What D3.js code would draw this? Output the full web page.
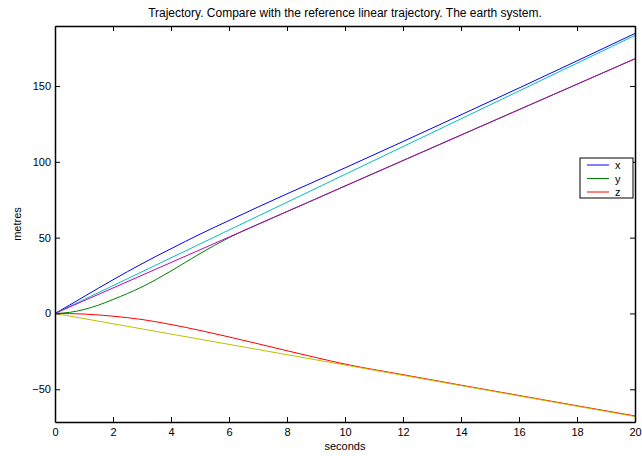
<!DOCTYPE html>
<html>
<head>
<meta charset="utf-8">
<script src="https://cdn.jsdelivr.net/npm/d3@7"></script>
<style>
  body { margin: 0; background: #fff; }
  text { font-family: "Liberation Sans", Arial, sans-serif; fill: #000; }
</style>
</head>
<body>
<script>
// time samples (seconds) for the simulated trajectory
var tSim = [0, 0.5, 1, 1.5, 2, 3, 4, 5, 6, 7, 8, 9, 10, 12, 14, 16, 18, 20];
var xSim = [0, 5.5, 11.1, 16.7, 22.2, 32.8, 42.7, 52.3, 61.3, 70.2, 78.9, 87.4, 96, 113.4, 131, 148.7, 166.6, 184.7];
var ySim = [0, 0.7, 2.6, 5.5, 9.2, 17.5, 28, 39.5, 50, 58.8, 67.2, 75.6, 84.1, 100.9, 117.7, 134.5, 151.2, 168];
var zSim = [0, -0.1, -0.4, -1, -1.8, -4, -7.3, -11.2, -15.5, -20, -24.6, -29.1, -33.4, -40.4, -47.3, -54.1, -60.9, -67.6];

// reference linear trajectory
var tRef = [0, 20];
var xRef = [0, 183.4];
var yRef = [0, 168];
var zRef = [0, -68];

var xTicks = [0, 2, 4, 6, 8, 10, 12, 14, 16, 18, 20];
var yTicks = [-50, 0, 50, 100, 150];
var legendNames = ["x", "y", "z"];

var W = 642, H = 456;
var margin = {top: 26, right: 7, bottom: 34, left: 55};
var width = W - margin.left - margin.right;
var height = H - margin.top - margin.bottom;

var svg = d3.select("body").append("svg")
    .attr("width", W)
    .attr("height", H);

var g = svg.append("g")
    .attr("transform", "translate(" + margin.left + "," + margin.top + ")");

var x = d3.scaleLinear().domain([0, 20]).range([0, width]);
var y = d3.scaleLinear().domain([-71.6, 189.6]).range([height, 0]);

function series(ts, vs) {
  return ts.map(function(t, i) { return [t, vs[i]]; });
}

var line = d3.line()
    .x(function(d) { return x(d[0]); })
    .y(function(d) { return y(d[1]); })
    .curve(d3.curveMonotoneX);

var lines = [
  {data: series(tSim, xSim), color: "#0000ff"},
  {data: series(tSim, ySim), color: "#008000"},
  {data: series(tSim, zSim), color: "#ff0000"},
  {data: series(tRef, xRef), color: "#00bfbf"},
  {data: series(tRef, yRef), color: "#bf00bf"},
  {data: series(tRef, zRef), color: "#bfbf00"}
];

g.append("g").selectAll("path").data(lines).enter()
  .append("path")
    .attr("d", function(d) { return line(d.data); })
    .attr("fill", "none")
    .attr("stroke", function(d) { return d.color; })
    .attr("stroke-width", 1);

// axes, matlab style: ticks inside and mirrored on the opposite side
var bottomAxis = d3.axisBottom(x).tickValues(xTicks).tickSizeInner(-5).tickSizeOuter(0).tickPadding(6);
var leftAxis = d3.axisLeft(y).tickValues(yTicks).tickSizeInner(-5).tickSizeOuter(0).tickPadding(4)
    .tickFormat(function(d) { return d < 0 ? "\u2212" + Math.abs(d) : d; });
var topAxis = d3.axisTop(x).tickValues(xTicks).tickSizeInner(-5).tickSizeOuter(0).tickFormat("");
var rightAxis = d3.axisRight(y).tickValues(yTicks).tickSizeInner(-5).tickSizeOuter(0).tickFormat("");

g.append("g").attr("transform", "translate(0," + height + ")").call(bottomAxis);
g.append("g").call(leftAxis);
g.append("g").call(topAxis);
g.append("g").attr("transform", "translate(" + width + ",0)").call(rightAxis);

g.selectAll(".tick text").attr("font-size", 11).attr("font-family", "Liberation Sans, Arial, sans-serif");
g.selectAll(".domain").attr("stroke", "#000").attr("stroke-width", 1.5);
g.selectAll(".tick line").attr("stroke", "#000");

g.append("text")
    .attr("x", width / 2)
    .attr("y", -9)
    .attr("text-anchor", "middle")
    .attr("font-size", 12)
    .text("Trajectory. Compare with the reference linear trajectory. The earth system.");

g.append("text")
    .attr("x", width / 2)
    .attr("y", height + 28)
    .attr("text-anchor", "middle")
    .attr("font-size", 11)
    .text("seconds");

g.append("text")
    .attr("transform", "rotate(-90)")
    .attr("x", -height / 2)
    .attr("y", -34)
    .attr("text-anchor", "middle")
    .attr("font-size", 11)
    .text("metres");

// legend
var legend = svg.append("g").attr("transform", "translate(580,158)");
legend.append("rect")
    .attr("width", 53).attr("height", 40)
    .attr("fill", "#fff").attr("stroke", "#000").attr("stroke-width", 1);

var items = legend.selectAll("g.item").data(legendNames).enter()
  .append("g").attr("class", "item")
    .attr("transform", function(d, i) { return "translate(0," + (7 + i * 13.5) + ")"; });
items.append("line")
    .attr("x1", 7).attr("x2", 29)
    .attr("stroke", function(d, i) { return lines[i].color; });
items.append("text")
    .attr("x", 35).attr("y", 4)
    .attr("font-size", 11)
    .text(function(d) { return d; });
</script>
</body>
</html>
